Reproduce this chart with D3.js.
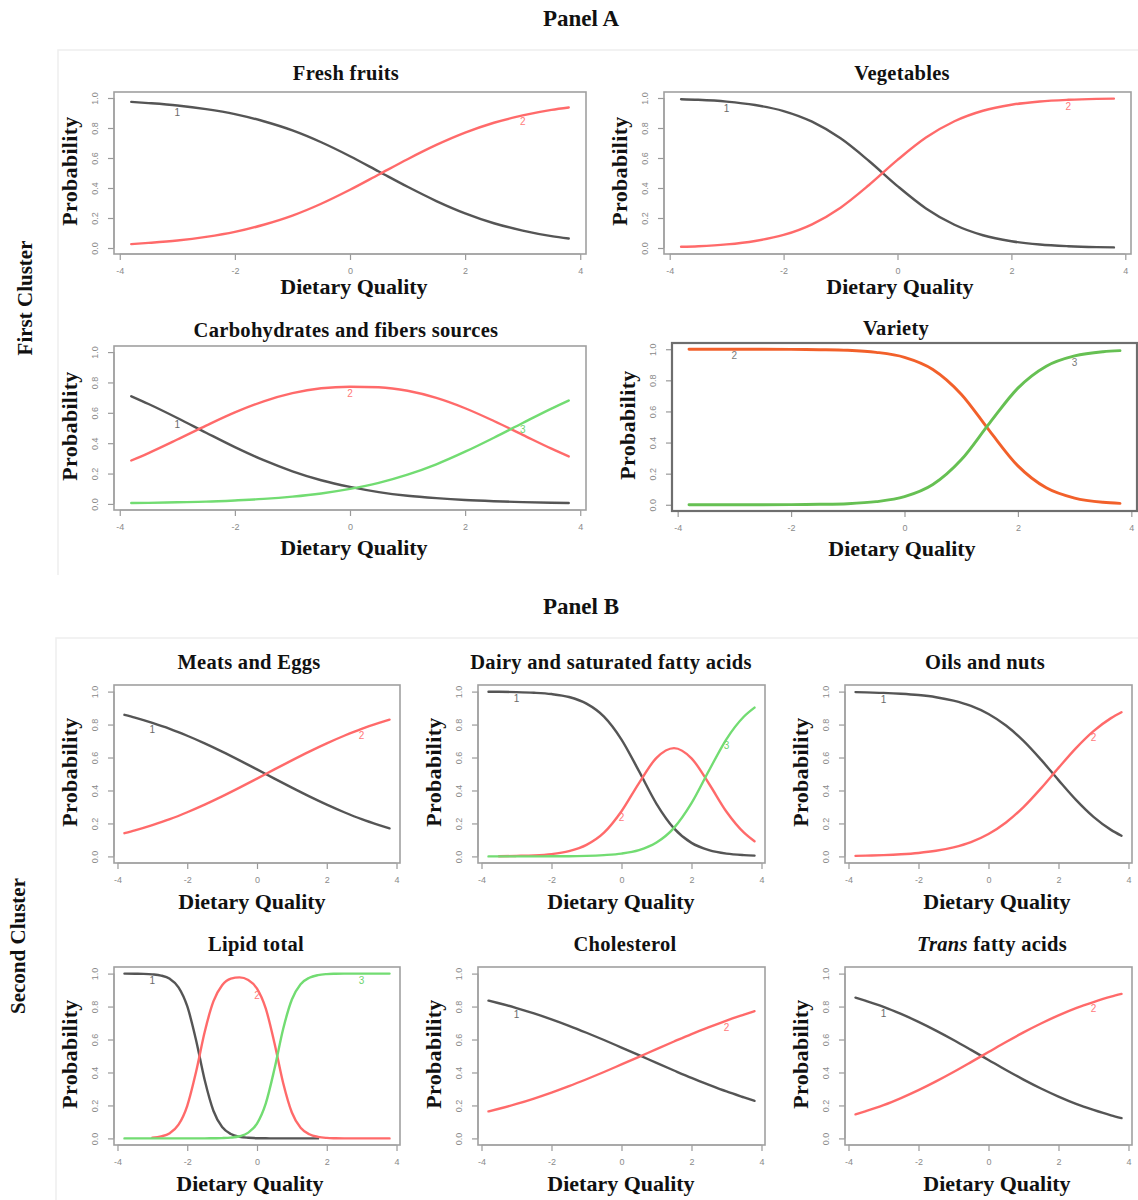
<!DOCTYPE html>
<html>
<head>
<meta charset="utf-8">
<script src="https://cdn.jsdelivr.net/npm/d3@7"></script>
<style>
  body { margin: 0; background: #fff; }
  svg { display: block; }
  .tick text { font-family: "Liberation Sans", Arial, sans-serif; font-size: 9px; fill: #8a8a8a; }
  .tick line { stroke: #9a9a9a; stroke-width: 1.2; }
  .serif { font-family: "Liberation Serif", "Times New Roman", serif; font-weight: bold; fill: #111; }
</style>
</head>
<body>
<svg id="fig" width="1138" height="1200">
  <defs>
    <filter id="soft" x="-5%" y="-5%" width="110%" height="110%">
      <feGaussianBlur stdDeviation="0.4"/>
    </filter>
  </defs>
</svg>
<script>
// ---- sampling grids of the latent trait (dietary quality) ----
const xCoarse = [-3.8,-3.5,-3,-2.5,-2,-1.5,-1,-0.5,0,0.5,1,1.5,2,2.5,3,3.5,3.8];
const xFine = [-3.8,-3.5,-3.25,-3,-2.75,-2.5,-2.25,-2,-1.75,-1.5,-1.25,-1,-0.75,-0.5,-0.25,
               0,0.25,0.5,0.75,1,1.25,1.5,1.75,2,2.25,2.5,2.75,3,3.25,3.5,3.8];

// ---- axis ticks ----
const xTicks = [-4,-2,0,2,4];
const yTicks = [0,0.2,0.4,0.6,0.8,1.0];
const yTickLabels = ["0.0","0.2","0.4","0.6","0.8","1.0"];

// ---- Panel A, first cluster: category probability curves ----
const freshFruits1 = [0.974,0.966,0.950,0.926,0.893,0.845,0.784,0.705,0.612,0.510,0.408,0.313,0.231,0.165,0.116,0.079,0.063];
const freshFruits2 = [0.026,0.034,0.050,0.074,0.107,0.155,0.216,0.295,0.388,0.490,0.592,0.687,0.769,0.835,0.884,0.921,0.937];

const vegetables1 = [0.992,0.988,0.976,0.953,0.913,0.842,0.731,0.580,0.413,0.264,0.155,0.085,0.045,0.023,0.012,0.006,0.004];
const vegetables2 = [0.008,0.012,0.024,0.047,0.087,0.158,0.269,0.420,0.587,0.736,0.845,0.915,0.955,0.977,0.988,0.994,0.996];

const carbs1 = [0.709,0.658,0.566,0.469,0.374,0.288,0.215,0.156,0.112,0.078,0.054,0.038,0.026,0.018,0.012,0.008,0.006];
const carbs2 = [0.286,0.335,0.424,0.516,0.603,0.676,0.730,0.762,0.772,0.768,0.745,0.698,0.630,0.546,0.455,0.364,0.313];
const carbs3 = [0.006,0.007,0.011,0.015,0.023,0.033,0.048,0.069,0.099,0.139,0.193,0.261,0.344,0.436,0.533,0.628,0.681];

const variety2 = [1.000,1.000,1.000,1.000,0.999,0.997,0.993,0.980,0.948,0.870,0.711,0.475,0.250,0.109,0.043,0.016,0.009];
const variety3 = [0.000,0.000,0.000,0.000,0.001,0.003,0.007,0.020,0.052,0.130,0.289,0.525,0.750,0.891,0.957,0.984,0.991];

// ---- Panel B, second cluster ----
const meats1 = [0.859,0.842,0.810,0.774,0.732,0.686,0.636,0.583,0.528,0.472,0.417,0.364,0.314,0.268,0.226,0.190,0.170];
const meats2 = [0.141,0.158,0.190,0.226,0.268,0.314,0.364,0.417,0.472,0.528,0.583,0.636,0.686,0.732,0.774,0.810,0.830];

const dairy1 = [0.999,0.999,0.997,0.993,0.985,0.967,0.927,0.848,0.709,0.517,0.319,0.170,0.082,0.038,0.017,0.008,0.005];
const dairy2 = [null,0.001,0.003,0.006,0.014,0.032,0.070,0.144,0.274,0.445,0.598,0.657,0.595,0.441,0.271,0.144,0.092];
const dairy3 = [0.000,0.000,0.000,0.000,0.001,0.001,0.003,0.008,0.017,0.038,0.084,0.173,0.323,0.521,0.712,0.849,0.903];

const oils1 = [0.997,0.995,0.992,0.987,0.979,0.966,0.945,0.913,0.864,0.794,0.701,0.587,0.463,0.343,0.240,0.161,0.125];
const oils2 = [0.003,0.005,0.008,0.013,0.021,0.034,0.055,0.087,0.136,0.206,0.299,0.413,0.537,0.657,0.760,0.839,0.875];

const lipid1 = [1.000,0.999,0.998,0.995,0.988,0.968,0.917,0.802,0.599,0.354,0.168,0.069,0.027,0.010,0.004,0.001,
                0.001,0.000,0.000,0.000,0.000,0.000,0.000,null,null,null,null,null,null,null,null];
const lipid2 = [null,null,null,0.005,0.012,0.032,0.083,0.198,0.401,0.646,0.831,0.929,0.969,0.977,0.961,0.909,
                0.789,0.579,0.336,0.157,0.064,0.025,0.009,0.003,0.001,0.000,0.000,0.000,0.000,0.000,0.000];
const lipid3 = [0.000,0.000,0.000,0.000,0.000,0.000,0.000,0.000,0.000,0.000,0.001,0.002,0.005,0.013,0.035,0.090,
                0.211,0.421,0.664,0.843,0.936,0.975,0.991,0.997,0.999,1.000,1.000,1.000,1.000,1.000,1.000];

const chol1 = [0.836,0.820,0.791,0.758,0.722,0.683,0.641,0.597,0.551,0.505,0.458,0.412,0.367,0.325,0.285,0.249,0.228];
const chol2 = [0.164,0.180,0.209,0.242,0.278,0.317,0.359,0.403,0.449,0.495,0.542,0.588,0.633,0.675,0.715,0.751,0.772];

const trans1 = [0.854,0.834,0.798,0.755,0.707,0.654,0.597,0.537,0.476,0.415,0.357,0.303,0.254,0.210,0.173,0.140,0.123];
const trans2 = [0.146,0.166,0.202,0.245,0.293,0.346,0.403,0.463,0.524,0.585,0.643,0.697,0.746,0.790,0.827,0.860,0.877];

// ---- line colours ----
const COL = {
  c1: "#555555", c2: "#ff6b6b", c3: "#72dc72",
  vOrange: "#f2612c", vGreen: "#66c052",
  lab1: "#6a6a6a", lab2: "#ff7a7a", lab3: "#6fd36f", labGray: "#7a7a7a"
};

// each panel: title, grid, curves (category, values, colour, label position) and its layout
const charts = [
  { title: "Fresh fruits", grid: xCoarse, box: [114, 92, 586, 254], titleX: 346, titleDy: 12, xlabX: 354, xlabDy: 40,
    curves: [
      { cat: "1", values: freshFruits1, color: COL.c1, lab: COL.lab1, at: -3 },
      { cat: "2", values: freshFruits2, color: COL.c2, lab: COL.lab2, at: 3 } ] },
  { title: "Vegetables", grid: xCoarse, box: [664, 92, 1131, 254], titleX: 902, titleDy: 12, xlabX: 900, xlabDy: 40,
    curves: [
      { cat: "1", values: vegetables1, color: COL.c1, lab: COL.lab1, at: -3 },
      { cat: "2", values: vegetables2, color: COL.c2, lab: COL.lab2, at: 3 } ] },
  { title: "Carbohydrates and fibers sources", grid: xCoarse, box: [114, 346, 586, 510], titleX: 346, titleDy: 9, xlabX: 354, xlabDy: 45,
    curves: [
      { cat: "1", values: carbs1, color: COL.c1, lab: COL.lab1, at: -3 },
      { cat: "2", values: carbs2, color: COL.c2, lab: COL.lab2, at: 0 },
      { cat: "3", values: carbs3, color: COL.c3, lab: COL.lab3, at: 3 } ] },
  { title: "Variety", grid: xCoarse, box: [672, 343, 1137, 511], titleX: 896, titleDy: 8, xlabX: 902, xlabDy: 45, strong: true,
    curves: [
      { cat: "2", values: variety2, color: COL.vOrange, lab: COL.labGray, at: -3 },
      { cat: "3", values: variety3, color: COL.vGreen, lab: COL.labGray, at: 3 } ] },

  { title: "Meats and Eggs", grid: xCoarse, box: [114, 685, 400, 863], titleX: 249, titleDy: 16, xlabX: 252, xlabDy: 46,
    curves: [
      { cat: "1", values: meats1, color: COL.c1, lab: COL.lab1, at: -3 },
      { cat: "2", values: meats2, color: COL.c2, lab: COL.lab2, at: 3 } ] },
  { title: "Dairy and saturated fatty acids", grid: xCoarse, box: [478, 685, 765, 863], titleX: 611, titleDy: 16, xlabX: 621, xlabDy: 46,
    curves: [
      { cat: "1", values: dairy1, color: COL.c1, lab: COL.lab1, at: -3 },
      { cat: "2", values: dairy2, color: COL.c2, lab: COL.lab2, at: 0 },
      { cat: "3", values: dairy3, color: COL.c3, lab: COL.lab3, at: 3 } ] },
  { title: "Oils and nuts", grid: xCoarse, box: [845, 685, 1132, 863], titleX: 985, titleDy: 16, xlabX: 997, xlabDy: 46,
    curves: [
      { cat: "1", values: oils1, color: COL.c1, lab: COL.lab1, at: -3 },
      { cat: "2", values: oils2, color: COL.c2, lab: COL.lab2, at: 3 } ] },
  { title: "Lipid total", grid: xFine, box: [114, 967, 400, 1145], titleX: 256, titleDy: 16, xlabX: 250, xlabDy: 46,
    curves: [
      { cat: "1", values: lipid1, color: COL.c1, lab: COL.lab1, at: -3 },
      { cat: "2", values: lipid2, color: COL.c2, lab: COL.lab2, at: 0 },
      { cat: "3", values: lipid3, color: COL.c3, lab: COL.lab3, at: 3 } ] },
  { title: "Cholesterol", grid: xCoarse, box: [478, 967, 765, 1145], titleX: 625, titleDy: 16, xlabX: 621, xlabDy: 46,
    curves: [
      { cat: "1", values: chol1, color: COL.c1, lab: COL.lab1, at: -3 },
      { cat: "2", values: chol2, color: COL.c2, lab: COL.lab2, at: 3 } ] },
  { title: ["Trans", " fatty acids"], grid: xCoarse, box: [845, 967, 1132, 1145], titleX: 992, titleDy: 16, xlabX: 997, xlabDy: 46,
    curves: [
      { cat: "1", values: trans1, color: COL.c1, lab: COL.lab1, at: -3 },
      { cat: "2", values: trans2, color: COL.c2, lab: COL.lab2, at: 3 } ] }
];

const svg = d3.select("#fig");

// faint frames around the two panels
svg.append("path")
  .attr("d", "M58,575 L58,50 L1138,50")
  .attr("fill", "none").attr("stroke", "#eeeeee").attr("stroke-width", 1.5);
svg.append("path")
  .attr("d", "M56,1200 L56,638 L1138,638")
  .attr("fill", "none").attr("stroke", "#eeeeee").attr("stroke-width", 1.5);

// panel headings and cluster labels
svg.append("text").attr("class", "serif").attr("x", 581).attr("y", 26)
  .attr("text-anchor", "middle").style("font-size", "23px").text("Panel A");
svg.append("text").attr("class", "serif").attr("x", 581).attr("y", 614)
  .attr("text-anchor", "middle").style("font-size", "23px").text("Panel B");
svg.append("text").attr("class", "serif")
  .attr("transform", "translate(32,298) rotate(-90)")
  .attr("text-anchor", "middle").style("font-size", "21px").text("First Cluster");
svg.append("text").attr("class", "serif")
  .attr("transform", "translate(25,946) rotate(-90)")
  .attr("text-anchor", "middle").style("font-size", "21px").text("Second Cluster");

function drawChart(c) {
  const [x0, y0, x1, y1] = c.box;
  const g = svg.append("g");
  const x = d3.scaleLinear().domain([-4.1, 4.1]).range([x0, x1]);
  const y = d3.scaleLinear().domain([-0.04, 1.04]).range([y1, y0]);

  // title
  const t = g.append("text").attr("class", "serif")
    .attr("x", c.titleX).attr("y", y0 - c.titleDy)
    .attr("text-anchor", "middle").style("font-size", "20.5px")
    .style("letter-spacing", "0.3px");
  if (Array.isArray(c.title)) {
    t.append("tspan").style("font-style", "italic").text(c.title[0]);
    t.append("tspan").text(c.title[1]);
  } else {
    t.text(c.title);
  }

  // x axis
  const xa = g.append("g").attr("transform", `translate(0,${y1})`)
    .call(d3.axisBottom(x).tickValues(xTicks).tickSize(6).tickPadding(8)
      .tickFormat(d => String(d)));
  xa.select(".domain").remove();
  xa.append("line").attr("x1", x(xTicks[0])).attr("x2", x(xTicks[xTicks.length - 1]))
    .attr("stroke", "#9a9a9a").attr("stroke-width", 1.2);

  // y axis, labels drawn parallel to the axis
  const ya = g.append("g").attr("transform", `translate(${x0},0)`)
    .call(d3.axisLeft(y).tickValues(yTicks).tickSize(6)
      .tickFormat((d, i) => yTickLabels[i]));
  ya.select(".domain").remove();
  ya.append("line").attr("y1", y(yTicks[0])).attr("y2", y(yTicks[yTicks.length - 1]))
    .attr("stroke", "#9a9a9a").attr("stroke-width", 1.2);
  ya.selectAll(".tick text")
    .attr("x", null).attr("dy", null)
    .attr("text-anchor", "middle")
    .attr("transform", "translate(-16,0) rotate(-90)");

  // plotting box
  g.append("rect").attr("x", x0).attr("y", y0)
    .attr("width", x1 - x0).attr("height", y1 - y0)
    .attr("fill", "none")
    .attr("stroke", c.strong ? "#6e6e6e" : "#a0a0a0")
    .attr("stroke-width", c.strong ? 2.2 : 1.6);

  // curves
  const line = d3.line()
    .defined(d => d[1] != null)
    .x(d => x(d[0])).y(d => y(d[1]))
    .curve(d3.curveMonotoneX);
  const lines = g.append("g").attr("filter", "url(#soft)");
  c.curves.forEach(s => {
    const pts = c.grid.map((gx, i) => [gx, s.values[i]]);
    lines.append("path").datum(pts)
      .attr("d", line)
      .attr("fill", "none")
      .attr("stroke", s.color)
      .attr("stroke-width", c.strong ? 2.9 : 2.4)
      .attr("stroke-linejoin", "round")
      .attr("stroke-linecap", "round");
  });

  // category numbers next to their curves
  c.curves.forEach(s => {
    const i = c.grid.indexOf(s.at);
    g.append("text")
      .attr("x", x(s.at)).attr("y", y(s.values[i]) + 10)
      .attr("text-anchor", "middle")
      .style("font-family", "'Liberation Sans', Arial, sans-serif")
      .style("font-size", "10px")
      .attr("fill", s.lab)
      .text(s.cat);
  });

  // axis titles
  g.append("text").attr("class", "serif")
    .attr("transform", `translate(${x0 - 37},${(y0 + y1) / 2 - 2}) rotate(-90)`)
    .attr("text-anchor", "middle").style("font-size", "22px")
    .style("letter-spacing", "0.3px")
    .text("Probability");
  g.append("text").attr("class", "serif")
    .attr("x", c.xlabX).attr("y", y1 + c.xlabDy)
    .attr("text-anchor", "middle").style("font-size", "22px")
    .text("Dietary Quality");
}

charts.forEach(drawChart);
</script>
</body>
</html>
